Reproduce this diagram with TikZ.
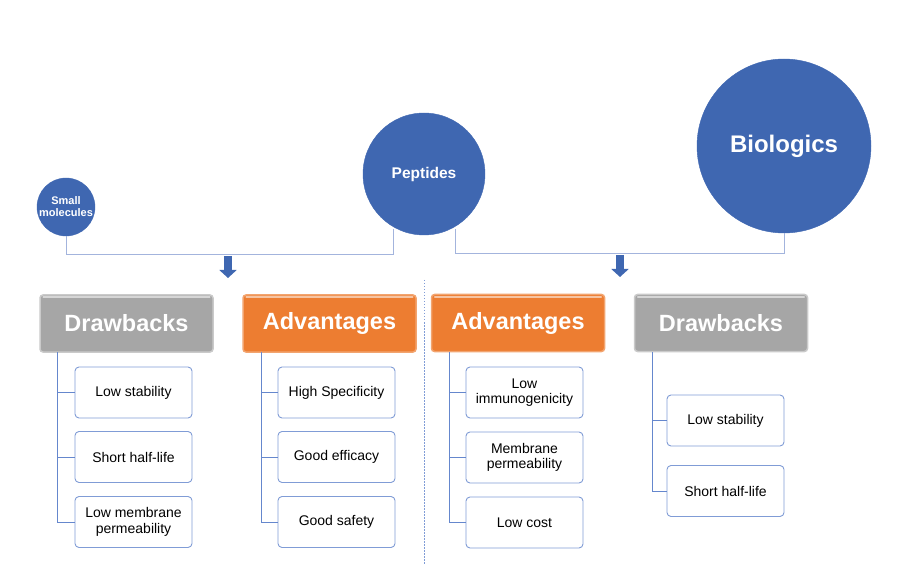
\documentclass[tikz,border=0pt]{standalone}
\usepackage{fontspec}
\setmainfont{Liberation Sans}
\usetikzlibrary{arrows.meta}
\definecolor{circblue}{HTML}{3F67B1}
\definecolor{linkblue}{HTML}{A3B4DD}
\definecolor{boxblue}{HTML}{4A72C4}
\definecolor{hdrgray}{HTML}{A6A6A6}
\definecolor{hdrorange}{HTML}{ED7D31}
\tikzset{
  circ/.style={circle, fill=circblue, draw=circblue, text=white, font=\bfseries, align=center, inner sep=0pt},
  link/.style={draw=linkblue, line width=1pt},
  hdr/.style={rounded corners=3pt, minimum width=173pt, minimum height=57pt, text=white, font=\fontsize{23.5}{26}\selectfont\bfseries, line width=1.5pt},
  shine/.style={draw=white, opacity=0.55, line width=1.6pt, line cap=round},
  child/.style={rectangle, rounded corners=4pt, draw=boxblue!70, line width=0.9pt, fill=white, minimum width=117pt, minimum height=51pt, align=center, font=\fontsize{14}{15.5}\selectfont, inner sep=1pt},
  tree/.style={draw=boxblue!85, line width=1pt},
  bigarrow/.style={-{Triangle[width=17pt,length=8pt]}, line width=8pt, draw=circblue},
}
\begin{document}
\begin{tikzpicture}[x=1pt,y=-1pt]
\useasboundingbox (0,0) rectangle (903,564);
% circles
\node[circ, minimum size=58pt, font=\fontsize{11}{12}\selectfont\bfseries] (sm) at (66,207) {Small\\molecules};
\node[circ, minimum size=122pt, font=\fontsize{15.5}{17}\selectfont\bfseries] (pep) at (424,174) {Peptides};
\node[circ, minimum size=174pt, font=\fontsize{24}{26}\selectfont\bfseries] (bio) at (784,146) {Biologics};
% connectors
\coordinate (l1) at (66,255);
\coordinate (l2) at (393,255);
\coordinate (r1) at (455,254);
\coordinate (r2) at (784,254);
\draw[link] (sm.south) -- (l1) -- (l2) -- (393,229);
\draw[link] (455,229) -- (r1) -- (r2) -- (bio.south);
% arrows
\coordinate (a1s) at (228,256);
\coordinate (a1e) at (228,278);
\coordinate (a2s) at (620,255);
\coordinate (a2e) at (620,277);
\draw[bigarrow] (a1s) -- (a1e);
\draw[bigarrow] (a2s) -- (a2e);
% divider
\coordinate (d1) at (424,280);
\coordinate (d2) at (424,564);
\draw[boxblue!70, line width=0.8pt, dash pattern=on 1.5pt off 1.5pt] (d1) -- (d2);
% headers
\node[hdr, fill=hdrgray, draw=hdrgray!60] (h1) at (126.5,323.5) {Drawbacks};
\node[hdr, fill=hdrorange, draw=hdrorange!70] (h2) at (329.5,323.5) {Advantages};
\node[hdr, fill=hdrorange, draw=hdrorange!70] (h3) at (518,323) {Advantages};
\node[hdr, fill=hdrgray, draw=hdrgray!60] (h4) at (721,323) {Drawbacks};
\foreach \h in {h1,h2,h3,h4}{
  \draw[shine] ([xshift=4pt,yshift=-3pt]\h.north west) -- ([xshift=-4pt,yshift=-3pt]\h.north east);
}
% column 1
\node[child] (c11) at (133.5,392.5) {Low stability};
\node[child] (c12) at (133.5,457) {Short half-life};
\node[child] (c13) at (133.5,522) {Low membrane\\permeability};
\draw[tree] (57,352) -- (57,522) -- (c13.west);
\draw[tree] (57,392.5) -- (c11.west);
\draw[tree] (57,457) -- (c12.west);
% column 2
\node[child] (c21) at (336.5,392.5) {High Specificity};
\node[child] (c22) at (336.5,457) {Good efficacy};
\node[child] (c23) at (336.5,522) {Good safety};
\draw[tree] (261,352) -- (261,522) -- (c23.west);
\draw[tree] (261,392.5) -- (c21.west);
\draw[tree] (261,457) -- (c22.west);
% column 3
\node[child] (c31) at (524.5,392.5) {Low\\immunogenicity};
\node[child] (c32) at (524.5,457.5) {Membrane\\permeability};
\node[child] (c33) at (524.5,522.5) {Low cost};
\draw[tree] (449,352) -- (449,522.5) -- (c33.west);
\draw[tree] (449,392.5) -- (c31.west);
\draw[tree] (449,457.5) -- (c32.west);
% column 4
\node[child] (c41) at (725.5,420.5) {Low stability};
\node[child] (c42) at (725.5,491) {Short half-life};
\draw[tree] (652,352) -- (652,491) -- (c42.west);
\draw[tree] (652,420.5) -- (c41.west);
\end{tikzpicture}
\end{document}
